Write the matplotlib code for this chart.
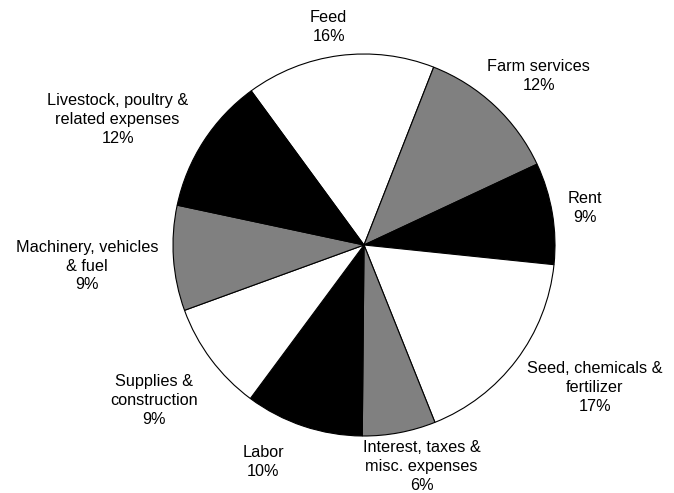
import matplotlib
matplotlib.use("Agg")
import matplotlib.pyplot as plt

plt.rcParams["font.family"] = ["Liberation Sans", "DejaVu Sans"]

categories = [
    "Feed",
    "Farm services",
    "Rent",
    "Seed, chemicals &\nfertilizer",
    "Interest, taxes &\nmisc. expenses",
    "Labor",
    "Supplies &\nconstruction",
    "Machinery, vehicles\n& fuel",
    "Livestock, poultry &\nrelated expenses",
]
shares = [16.0, 12.1, 8.6, 17.3, 6.2, 10.0, 9.3, 8.9, 11.6]
pct_labels = ["16%", "12%", "9%", "17%", "6%", "10%", "9%", "9%", "12%"]
colors = ["white", "#808080", "black"] * 3

# label centres, in units of the pie radius
label_pos = [
    (-0.185, 1.139),
    (0.915, 0.887),
    (1.159, 0.196),
    (1.209, -0.745),
    (0.302, -1.158),
    (-0.527, -1.136),
    (-1.099, -0.814),
    (-1.449, -0.110),
    (-1.290, 0.656),
]

R = 191.0
fig = plt.figure(figsize=(6.74, 4.93), dpi=100)
ax = fig.add_axes([0, 0, 1, 1])
ax.pie(shares, colors=colors, startangle=126.2, counterclock=False,
       radius=1.0, wedgeprops=dict(edgecolor="black", linewidth=0.8))

for name, pct, (x, y) in zip(categories, pct_labels, label_pos):
    ax.text(x, y, f"{name}\n{pct}", ha="center", va="center",
            fontsize=11.7, linespacing=1.33, color="black")

ax.set_xlim(-364 / R, (674 - 364) / R)
ax.set_ylim(-(493 - 245) / R, 245 / R)
ax.set_aspect("auto")
ax.axis("off")

fig.savefig("out.png", dpi=100, facecolor="white")
